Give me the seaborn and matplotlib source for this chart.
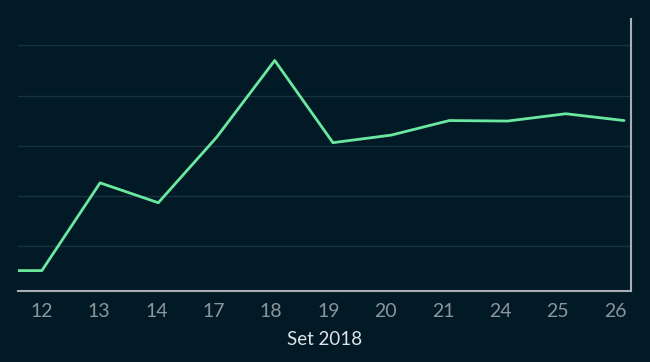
import pandas as pd
import seaborn as sns
import matplotlib.pyplot as plt

# trading days of Set 2018 (first entry is the day before, clipped at the left edge)
days = ['11', '12', '13', '14', '17', '18', '19', '20', '21', '24', '25', '26']
values = [10.4, 10.4, 45.3, 37.4, 63.4, 94.0, 61.3, 64.3, 70.1, 69.9, 72.8, 70.1]
grid_values = [20, 40, 60, 80, 100]

bg = '#011a26'
df = pd.DataFrame({'pos': range(-1, len(days) - 1), 'day': days, 'value': values})

sns.set_theme(style='dark')
plt.rcParams['font.family'] = ['Lato', 'DejaVu Sans']

fig = plt.figure(figsize=(6.5, 3.62), dpi=100, facecolor=bg)
ax = fig.add_axes([18 / 650, (362 - 290.7) / 362, (631 - 18) / 650, (290.7 - 19) / 362])
ax.set_facecolor(bg)

for g in grid_values:
    ax.axhline(g, color='#183340', lw=1, zorder=1)

sns.lineplot(data=df, x='pos', y='value', color='#6be8a0', lw=2, ax=ax, zorder=3)

ax.set_xlim(-0.41, 10.12)
ax.set_ylim(2.4, 110.5)
shown = df[df['pos'] >= 0]
# labels sit slightly left of the points on the right side
ax.set_xticks(shown['pos'] * 0.985)
ax.set_xticklabels(shown['day'])
ax.set_yticks([])
ax.tick_params(axis='x', length=0, pad=9, labelsize=14, colors='#8a969c')
ax.set_xlabel('Set 2018', color='#dde3e6', fontsize=13.5, labelpad=8)
ax.set_ylabel('')

for s in ['top', 'left']:
    ax.spines[s].set_visible(False)
for s in ['bottom', 'right']:
    ax.spines[s].set_color('#a9b0b4')
    ax.spines[s].set_linewidth(1.5)

fig.savefig('out.png', dpi=100, facecolor=bg)
